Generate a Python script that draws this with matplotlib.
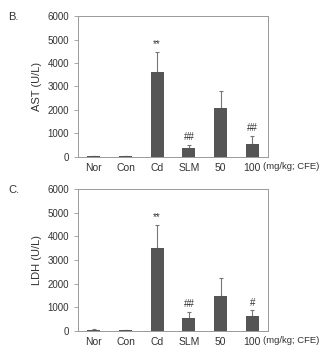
import matplotlib
matplotlib.use("Agg")
import matplotlib.pyplot as plt

plt.rcParams['font.family'] = ['Liberation Sans', 'DejaVu Sans']

categories = ["Nor", "Con", "Cd", "SLM", "50", "100"]
ast_mean = [30, 30, 3630, 380, 2100, 560]
ast_err = [10, 10, 850, 120, 700, 340]
ast_marks = ["", "", "**", "##", "", "##"]
ldh_mean = [60, 40, 3500, 570, 1480, 630]
ldh_err = [10, 10, 1000, 230, 770, 240]
ldh_marks = ["", "", "**", "##", "", "#"]
yticks = [0, 1000, 2000, 3000, 4000, 5000, 6000]

fig = plt.figure(figsize=(3.22, 3.47), dpi=100)
W, H = 322, 347
panels = [
    ("B.", "AST (U/L)", ast_mean, ast_err, ast_marks, 16, 157),
    ("C.", "LDH (U/L)", ldh_mean, ldh_err, ldh_marks, 189, 331),
]
bar_color = "#555555"
spine_color = "#999999"
text_color = "#333333"
for label, ylab, mean, err, marks, ytop, ybot in panels:
    ax = fig.add_axes([78 / W, 1 - ybot / H, (268 - 78) / W, (ybot - ytop) / H])
    x = list(range(len(categories)))
    ax.bar(x, mean, width=0.42, color=bar_color, zorder=2)
    ax.errorbar(x, mean, yerr=[[0] * len(err), err], fmt="none",
                ecolor="#777777", elinewidth=0.8, capsize=1.5, capthick=0.8, zorder=1)
    for xi, m, e, s in zip(x, mean, err, marks):
        if s:
            ax.text(xi, m + e + 120, s, ha="center", va="bottom",
                    fontsize=7, color=text_color)
    ax.set_xlim(-0.5, 5.5)
    ax.set_ylim(0, 6000)
    ax.set_yticks(yticks)
    ax.set_xticks(x)
    ax.set_xticklabels(categories)
    ax.tick_params(axis="y", labelsize=7, colors=text_color, length=3, width=0.6,
                   color=spine_color)
    ax.tick_params(axis="x", labelsize=7.5, colors=text_color, length=0, pad=4)
    for sp in ax.spines.values():
        sp.set_color(spine_color)
        sp.set_linewidth(0.7)
    ax.set_ylabel(ylab, fontsize=8, color=text_color, labelpad=4)
    fig.text(263 / W, 1 - (ybot + 5) / H, "(mg/kg; CFE)",
             ha="left", va="top", fontsize=6.8, color=text_color)
    fig.text(8 / W, 1 - (ytop - 4) / H, label, ha="left", va="top",
             fontsize=8, color=text_color)

fig.savefig("out.png", dpi=100)
